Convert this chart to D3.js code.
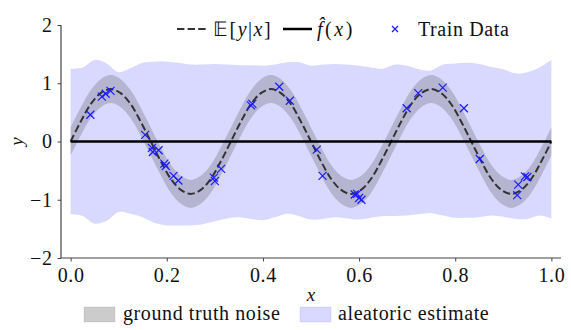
<!DOCTYPE html>
<html>
<head>
<meta charset="utf-8">
<script src="https://cdn.jsdelivr.net/npm/d3@7"></script>
<style>
  body { margin: 0; background: #fff; }
</style>
</head>
<body>
<svg width="571" height="330"></svg>
<script>
// E[y|x], one value every 1/48 along x
const meanX = d3.range(49).map(i => i / 48);
const meanY = [
  0, 0.34, 0.64, 0.83, 0.90, 0.83, 0.64, 0.34,
  0, -0.34, -0.64, -0.83, -0.90, -0.83, -0.64, -0.34,
  0, 0.34, 0.64, 0.83, 0.90, 0.83, 0.64, 0.34,
  0, -0.34, -0.64, -0.83, -0.90, -0.83, -0.64, -0.34,
  0, 0.34, 0.64, 0.83, 0.90, 0.83, 0.64, 0.34,
  0, -0.34, -0.64, -0.83, -0.90, -0.83, -0.64, -0.34,
  0
];
const noiseHalfWidth = 0.24; // ground truth band, +/- around E[y|x]

// aleatoric estimate edges, one value every 0.025 along x
const aleaX = d3.range(41).map(i => i / 40);
const aleaUpper = [
  1.25, 1.27, 1.40, 1.34, 1.19, 1.26, 1.35, 1.37, 1.37, 1.35,
  1.32, 1.32, 1.33, 1.32, 1.31, 1.31, 1.30, 1.32, 1.36, 1.36,
  1.30, 1.32, 1.33, 1.32, 1.30, 1.27, 1.25, 1.32, 1.30, 1.24,
  1.22, 1.32, 1.34, 1.35, 1.33, 1.28, 1.24, 1.17, 1.19, 1.27,
  1.40
];
const aleaLower = [
  -1.25, -1.28, -1.41, -1.36, -1.21, -1.24, -1.30, -1.40, -1.44, -1.44,
  -1.44, -1.42, -1.37, -1.32, -1.30, -1.33, -1.35, -1.30, -1.24, -1.28,
  -1.34, -1.33, -1.30, -1.32, -1.34, -1.31, -1.28, -1.28, -1.27, -1.25,
  -1.23, -1.27, -1.31, -1.31, -1.30, -1.27, -1.29, -1.33, -1.33, -1.27,
  -1.32
];

// f_hat is flat at zero
const fhatX = [0, 1];
const fhatY = [0, 0];

const trainX = [0.041, 0.065, 0.073, 0.083, 0.155, 0.169, 0.171, 0.183, 0.195, 0.198,
  0.214, 0.224, 0.298, 0.300, 0.313, 0.375, 0.378, 0.434, 0.456, 0.512,
  0.524, 0.591, 0.596, 0.600, 0.605, 0.699, 0.723, 0.774, 0.818, 0.851,
  0.931, 0.929, 0.945, 0.950];
const trainY = [0.46, 0.77, 0.82, 0.87, 0.115, -0.11, -0.18, -0.15, -0.38, -0.42,
  -0.59, -0.67, -0.62, -0.68, -0.47, 0.62, 0.645, 0.94, 0.70, -0.14,
  -0.59, -0.91, -0.90, -0.97, -1.00, 0.57, 0.83, 0.925, 0.57, -0.30,
  -0.74, -0.92, -0.60, -0.61];

const xTicks = [0, 0.2, 0.4, 0.6, 0.8, 1.0];
const yTicks = [-2, -1, 0, 1, 2];

const serif = "'Liberation Serif', 'Times New Roman', serif";
const svg = d3.select("svg");
const margin = ({top: 25, right: 10, bottom: 72, left: 61});
const width = 571;
const height = 330;

const x = d3.scaleLinear()
    .domain([-0.02, 1.02])
    .range([margin.left, width - margin.right]);
const y = d3.scaleLinear()
    .domain([-2, 2])
    .range([height - margin.bottom, margin.top]);

const curve = d3.curveCatmullRom;

// aleatoric estimate
svg.append("path")
    .datum(aleaX.map((v, i) => [v, aleaLower[i], aleaUpper[i]]))
    .attr("fill", "rgb(217,217,255)")
    .attr("d", d3.area().curve(curve)
      .x(d => x(d[0])).y0(d => y(d[1])).y1(d => y(d[2])));

// ground truth noise
svg.append("path")
    .datum(meanX.map((v, i) => [v, meanY[i]]))
    .attr("fill", "rgba(128,128,140,0.4)")
    .attr("d", d3.area().curve(curve)
      .x(d => x(d[0]))
      .y0(d => y(d[1] - noiseHalfWidth))
      .y1(d => y(d[1] + noiseHalfWidth)));

// E[y|x]
svg.append("path")
    .datum(meanX.map((v, i) => [v, meanY[i]]))
    .attr("fill", "none")
    .attr("stroke", "#333")
    .attr("stroke-width", 2)
    .attr("stroke-dasharray", "7.4,3.2")
    .attr("d", d3.line().curve(curve).x(d => x(d[0])).y(d => y(d[1])));

// f_hat
svg.append("path")
    .datum(fhatX.map((v, i) => [v, fhatY[i]]))
    .attr("fill", "none")
    .attr("stroke", "#000")
    .attr("stroke-width", 2.5)
    .attr("d", d3.line().x(d => x(d[0])).y(d => y(d[1])));

// train data crosses
const cross = s => `M${-s},${-s}L${s},${s}M${-s},${s}L${s},${-s}`;
svg.append("g")
    .selectAll("path")
    .data(trainX.map((v, i) => [v, trainY[i]]))
    .join("path")
      .attr("transform", d => `translate(${x(d[0])},${y(d[1])})`)
      .attr("d", cross(4))
      .attr("fill", "none")
      .attr("stroke", "#1a1aff")
      .attr("stroke-width", 1.2);

// axes
const xAxis = svg.append("g")
    .attr("transform", `translate(0,${height - margin.bottom})`)
    .call(d3.axisBottom(x).tickValues(xTicks).tickFormat(d3.format(".1f")).tickSize(3.5).tickPadding(5));
const yAxis = svg.append("g")
    .attr("transform", `translate(${margin.left},0)`)
    .call(d3.axisLeft(y).tickValues(yTicks).tickFormat(d => d < 0 ? "\u2212" + Math.abs(d) : d).tickSize(3.5).tickPadding(5));

[xAxis, yAxis].forEach(a => {
  a.attr("font-family", null).attr("font-size", null);
  a.select(".domain").attr("stroke", "#444").attr("stroke-width", 1.2);
  a.selectAll(".tick line").attr("stroke", "#444").attr("stroke-width", 1);
  a.selectAll(".tick text")
    .style("font-family", serif)
    .style("font-size", "18px")
    .attr("fill", "#111");
});
xAxis.select(".domain").attr("d", `M${margin.left},0H${width - margin.right}`);
yAxis.select(".domain").attr("d", `M0,${y(-2)}V${y(2)}`);
xAxis.selectAll(".tick text").attr("dy", "0.78em");

svg.append("text")
    .attr("x", x(0.5))
    .attr("y", 301)
    .attr("text-anchor", "middle")
    .style("font-family", serif)
    .style("font-style", "italic")
    .style("font-size", "19px")
    .attr("fill", "#111")
    .text("x");
svg.append("text")
    .attr("transform", `translate(23,${y(0)}) rotate(-90)`)
    .attr("text-anchor", "middle")
    .style("font-family", serif)
    .style("font-style", "italic")
    .style("font-size", "19px")
    .attr("fill", "#111")
    .text("y");

// top legend
const legendTop = svg.append("g");
legendTop.append("line")
    .attr("x1", 177).attr("x2", 207).attr("y1", 29).attr("y2", 29)
    .attr("stroke", "#333").attr("stroke-width", 2).attr("stroke-dasharray", "7.4,3.2");
const t1 = legendTop.append("text").attr("x", 213).attr("y", 36);
t1.append("tspan").text("\u{1D53C}[");
t1.append("tspan").style("font-style", "italic").text("y");
t1.append("tspan").text("|");
t1.append("tspan").style("font-style", "italic").text("x");
t1.append("tspan").text("]");
legendTop.append("line")
    .attr("x1", 283).attr("x2", 312).attr("y1", 29).attr("y2", 29)
    .attr("stroke", "#000").attr("stroke-width", 2.5);
const t2 = legendTop.append("text").attr("x", 317).attr("y", 36);
t2.append("tspan").style("font-style", "italic").text("f\u0302");
t2.append("tspan").text("(");
t2.append("tspan").style("font-style", "italic").text("x");
t2.append("tspan").text(")");
legendTop.append("path")
    .attr("transform", "translate(395,29)")
    .attr("d", cross(3))
    .attr("fill", "none").attr("stroke", "#1a1aff").attr("stroke-width", 1.2);
legendTop.append("text").attr("x", 418).attr("y", 36).text("Train Data");

// bottom legend
const legendBottom = svg.append("g");
legendBottom.append("rect")
    .attr("x", 84).attr("y", 307).attr("width", 31).attr("height", 15)
    .attr("fill", "rgba(128,128,128,0.4)").attr("stroke", "rgba(128,128,128,0.2)");
legendBottom.append("text").attr("x", 123).attr("y", 320).text("ground truth noise");
legendBottom.append("rect")
    .attr("x", 300).attr("y", 307).attr("width", 31).attr("height", 15)
    .attr("fill", "rgb(217,217,255)").attr("stroke", "rgba(0,0,255,0.08)");
legendBottom.append("text").attr("x", 338).attr("y", 320).text("aleatoric estimate");

svg.selectAll("g > text")
    .style("font-family", serif)
    .style("font-size", "20px")
    .style("letter-spacing", "0.6px")
    .attr("fill", "#111");
t1.style("letter-spacing", "1.5px");
t2.style("letter-spacing", "2.5px");
</script>
</body>
</html>
